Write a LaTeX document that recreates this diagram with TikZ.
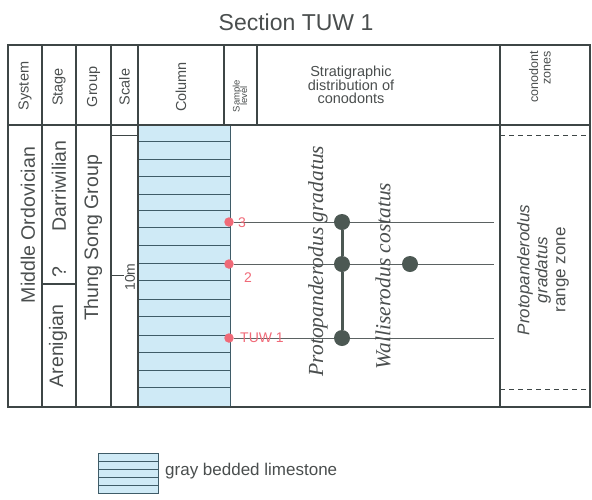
\documentclass[tikz,border=0pt]{standalone}
\usepackage{fontspec}
\setmainfont{Liberation Sans}
\newfontfamily\timesf{Liberation Serif}
\definecolor{ink}{HTML}{3E4646}
\definecolor{txt}{HTML}{4A4E4E}
\definecolor{limefill}{HTML}{CFEAF6}
\definecolor{bedline}{HTML}{3F5C68}
\definecolor{samplered}{HTML}{F06A78}
\definecolor{dotgray}{HTML}{4C5853}
\newcommand{\fs}[1]{\fontsize{#1}{#1}\selectfont}
\tikzset{
  frame/.style={draw=ink, line width=1.3pt},
  rot/.style={rotate=90, inner sep=0pt, text=txt},
  hdr/.style={rot, font=\fs{14.5}},
  body/.style={rot, font=\fs{19.5}},
  species/.style={rot, font=\timesf\itshape\fs{21.5}},
  bed/.style={draw=bedline, line width=0.9pt},
  redot/.style={circle, fill=samplered, inner sep=0pt, minimum size=9.5pt},
  redlab/.style={text=samplered, inner sep=0pt, font=\fs{14}},
  cdot/.style={circle, fill=dotgray, inner sep=0pt, minimum size=16pt},
  level/.style={draw=ink!85, line width=0.8pt},
}
\begin{document}
\begin{tikzpicture}[x=1pt,y=-1pt]
\useasboundingbox (0,0) rectangle (592,499);
% title
\node[text=txt, font=\fs{23}] (title) at (296,22) {Section TUW 1};
% column fill
\fill[limefill] (139,126) rectangle (230,407);
\foreach \yy in {141.7,159.3,176.7,194.3,210,227.7,245,263.3,280.7,299,316.7,335,352.3,370,387.3}
  \draw[bed] (139,\yy) -- (230,\yy);
\draw[bed] (230,126) -- (230,407);
% table frame
\draw[frame] (8,45) rectangle (590,407);
\draw[frame] (8,125) -- (590,125);
\foreach \xx in {42,76,111,138,500}
  \draw[frame] (\xx,45) -- (\xx,407);
\foreach \xx in {224,257}
  \draw[frame] (\xx,45) -- (\xx,125);
\draw[frame] (42,284) -- (76,284);
% scale ticks
\draw[ink, line width=1pt] (111,135) -- (138,135);
\draw[ink, line width=1pt] (111,275) -- (124,275);
\node[rot, font=\fs{14}] (tenm) at (130,277) {10m};
% header texts
\node[hdr] (hsys) at (25,86) {System};
\node[hdr] (hstage) at (59,87) {Stage};
\node[hdr] (hgroup) at (93.5,87) {Group};
\node[hdr] (hscale) at (124.5,87) {Scale};
\node[hdr] (hcol) at (181,87) {Column};
\node[rot, font=\fs{9.5}, align=center] (hsample) at (240,96) {Sample\\[-2pt]level};
\node[text=txt, font=\fs{14.5}, align=center, inner sep=0pt] (hstrat) at (351,85)
  {Stratigraphic\\[-1pt]distribution of\\[-1pt]conodonts};
\node[rot, font=\fs{12.5}, align=right, anchor=east] (hzone) at (540,51) {conodont\\[0pt]zones};
% body texts
\node[body] (system) at (28,225) {Middle Ordovician};
\node[body] (darri) at (59,186) {Darriwilian};
\node[body] (quest) at (59,272) {?};
\node[body] (areni) at (58,346) {Arenigian};
\node[body] (group) at (93,238) {Thung Song Group};
% sample levels
\node[redot] (s3) at (229,222) {};
\node[redot] (s2) at (229,264) {};
\node[redot] (s1) at (229,338) {};
\coordinate (e3) at (494,222);
\coordinate (e2) at (494,264);
\coordinate (e1) at (494,338);
\draw[level] (s3) -- (e3);
\draw[level] (s2) -- (e2);
\draw[level] (s1) -- (e1);
\node[redlab] (l3) at (242,223) {3};
\node[redlab] (l2) at (248,278) {2};
\node[redlab] (l1) at (262,338) {TUW 1};
% species names
\node[species] (pgrad) at (318,261) {Protopanderodus gradatus};
\node[species] (wcost) at (383,276) {Walliserodus costatus};
% conodont occurrences
\node[cdot] (p3) at (342,222) {};
\node[cdot] (p2) at (342,264) {};
\node[cdot] (p1) at (342,338) {};
\node[cdot] (w2) at (410,264) {};
\draw[dotgray, line width=3pt] (p3) -- (p2) -- (p1);
% zone
\draw[ink, line width=1pt, dashed, dash pattern=on 5pt off 4pt] (500,135) -- (590,135);
\draw[ink, line width=1pt, dashed, dash pattern=on 5pt off 4pt] (500,389) -- (590,389);
\node[rot, font=\fs{17}, align=center] (zone) at (543,270)
  {\itshape Protopanderodus\\[1pt]\itshape gradatus\\[1pt]range zone};
% legend
\fill[limefill] (98,453) rectangle (158,493);
\foreach \yy in {461,469,477,485}
  \draw[bed, line width=0.8pt] (98,\yy) -- (158,\yy);
\draw[bed, line width=1pt] (98,453) rectangle (158,493);
\node[text=txt, font=\fs{17}, anchor=west, inner sep=0pt] (legtext) at (165,471) {gray bedded limestone};
\end{tikzpicture}
\end{document}
